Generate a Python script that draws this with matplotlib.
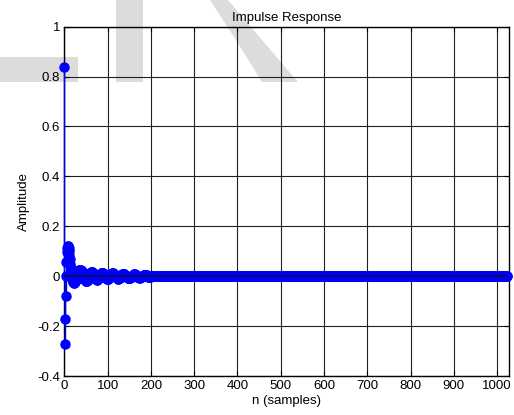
import numpy as np
import matplotlib.pyplot as plt
from matplotlib.patches import Polygon

plt.rcParams['font.family'] = ['Liberation Sans', 'DejaVu Sans']
plt.rcParams['font.size'] = 9.5

# first 200 taps of the impulse response, the rest has decayed to zero
h_head = [
    0.84, -0.27, -0.17, -0.08, 0.00, 0.055, 0.095, 0.115, 0.122, 0.12,
    0.112, 0.10, 0.085, 0.068, 0.05, 0.032, 0.016, 0.002, -0.009, -0.017,
    -0.022, -0.025, -0.026, -0.026, -0.024,
    -0.021, -0.016, -0.010, -0.004, 0.002, 0.008, 0.013, 0.018, 0.021, 0.024,
    0.025, 0.026, 0.026, 0.025, 0.022, 0.019, 0.015, 0.010, 0.005, 0.000,
    -0.005, -0.010, -0.014, -0.017, -0.019,
    -0.020, -0.020, -0.019, -0.017, -0.014, -0.010, -0.006, -0.002, 0.003, 0.007,
    0.011, 0.014, 0.016, 0.017, 0.017, 0.016, 0.014, 0.011, 0.008, 0.004,
    0.000, -0.004, -0.008, -0.011, -0.013,
    -0.014, -0.014, -0.013, -0.011, -0.008, -0.005, -0.002, 0.002, 0.005, 0.008,
    0.011, 0.013, 0.014, 0.014, 0.013, 0.011, 0.009, 0.006, 0.003, 0.000,
    -0.003, -0.006, -0.009, -0.011, -0.012,
    -0.012, -0.011, -0.010, -0.008, -0.006, -0.003, 0.000, 0.003, 0.006, 0.008,
    0.010, 0.011, 0.011, 0.011, 0.010, 0.008, 0.006, 0.004, 0.001, -0.001,
    -0.004, -0.006, -0.008, -0.009, -0.010,
    -0.010, -0.009, -0.008, -0.006, -0.004, -0.002, 0.001, 0.003, 0.005, 0.007,
    0.008, 0.009, 0.009, 0.008, 0.007, 0.006, 0.004, 0.002, 0.000, -0.002,
    -0.004, -0.005, -0.006, -0.007, -0.007,
    -0.007, -0.007, -0.006, -0.005, -0.003, -0.001, 0.001, 0.002, 0.004, 0.005,
    0.006, 0.007, 0.007, 0.007, 0.006, 0.005, 0.003, 0.002, 0.000, -0.002,
    -0.003, -0.004, -0.005, -0.006, -0.006,
    -0.005, -0.005, -0.004, -0.003, -0.002, -0.001, 0.001, 0.002, 0.003, 0.004,
    0.005, 0.005, 0.005, 0.004, 0.004, 0.003, 0.002, 0.000, -0.001, -0.002,
    -0.003, -0.003, -0.004, -0.004, -0.004,
]
n_taps = 1024
h = np.zeros(n_taps)
h[:len(h_head)] = h_head
n = np.arange(n_taps)

xticks = [0, 100, 200, 300, 400, 500, 600, 700, 800, 900, 1000]
yticks = [-0.4, -0.2, 0, 0.2, 0.4, 0.6, 0.8, 1]
ytick_labels = ['-0.4', '-0.2', '0', '0.2', '0.4', '0.6', '0.8', '1']

W, H = 514, 415
fig = plt.figure(figsize=(W / 100, H / 100), dpi=100)

# light gray shapes behind the axes (pixel coords, y from top)
shapes = [
    [(0, 57), (78, 57), (78, 82), (0, 82)],
    [(116, 0), (143, 0), (143, 82), (116, 82)],
    [(210, 0), (228, 0), (262, 40), (298, 82), (262, 82), (236, 40)],
]
for pts in shapes:
    xy = [(x / W, 1 - y / H) for x, y in pts]
    fig.patches.append(Polygon(xy, closed=True, transform=fig.transFigure,
                               facecolor='#dcdcdc', edgecolor='none', zorder=-1))

ax = fig.add_axes([64.3 / W, 39 / H, (509.3 - 64.3) / W, (376 - 26.7) / H])
ax.set_facecolor('none')

markerline, stemlines, baseline = ax.stem(n, h, linefmt='b-', markerfmt='bo', basefmt='k-')
plt.setp(markerline, markersize=6.5, markerfacecolor='b', markeredgecolor='b',
         zorder=3.5, clip_on=False)
plt.setp(stemlines, linewidth=1.0, color='#0000ff', zorder=3, clip_on=False)
plt.setp(baseline, linewidth=1.2, color='#101030', zorder=4)

ax.set_xlim(0, 1028)
ax.set_ylim(-0.4, 1)
ax.set_xticks(xticks)
ax.set_yticks(yticks)
ax.set_yticklabels(ytick_labels)
ax.grid(True, color='#202020', linewidth=0.8, linestyle='-')
ax.set_axisbelow(True)
ax.tick_params(direction='in', length=3.5, width=0.8, top=True, right=True, pad=3)
for s in ax.spines.values():
    s.set_linewidth(1.0)
    s.set_color('black')

ax.set_title('Impulse Response', pad=4, fontsize=9.5)
ax.set_xlabel('n (samples)', labelpad=2)
ax.set_ylabel('Amplitude', labelpad=5)

fig.savefig('out.png', dpi=100)
